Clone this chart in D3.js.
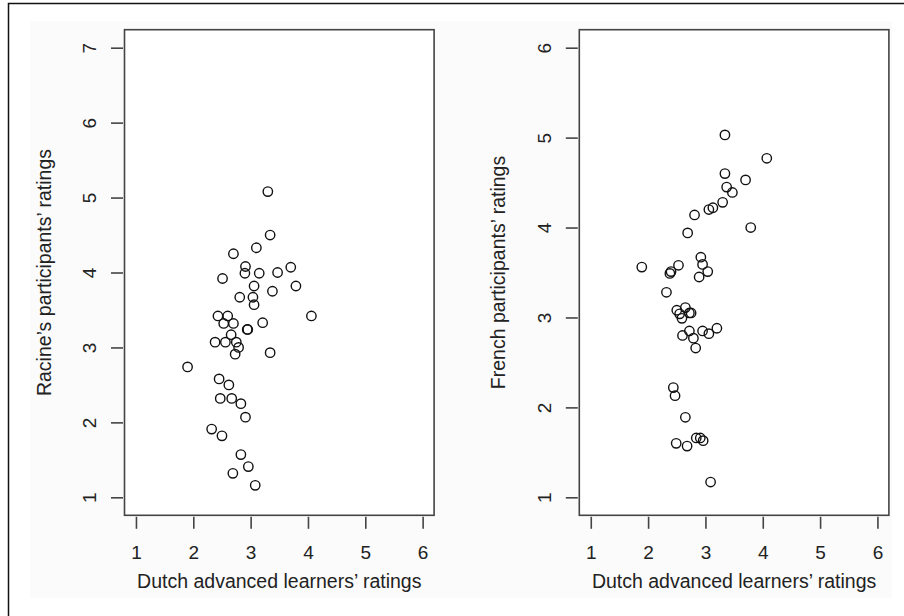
<!DOCTYPE html>
<html>
<head>
<meta charset="utf-8">
<script src="https://cdn.jsdelivr.net/npm/d3@7"></script>
<style>
  body { margin: 0; background: #fff; }
  svg text { font-family: "Liberation Sans", Arial, Helvetica, sans-serif; fill: #222; }
</style>
</head>
<body>
<svg id="chart" width="904" height="616"></svg>
<script>
// Dutch advanced learners' ratings vs Racine's participants' ratings (left panel)
const dutchLeft = [3.30, 3.34, 3.10, 2.70, 2.91, 3.70, 2.90, 3.15, 3.47, 2.51, 3.79, 3.06,
  3.38, 2.81, 3.04, 3.06, 4.06, 2.43, 2.60, 2.53, 2.70, 3.21, 2.94, 2.95, 2.66, 2.38,
  2.56, 2.75, 2.79, 3.34, 2.73, 1.90, 2.45, 2.62, 2.47, 2.67, 2.83, 2.91, 2.32, 2.50,
  2.83, 2.96, 2.69, 3.08];
const racine = [5.08, 4.50, 4.33, 4.25, 4.08, 4.07, 3.99, 3.99, 4.00, 3.92, 3.82, 3.82,
  3.75, 3.67, 3.67, 3.57, 3.42, 3.42, 3.42, 3.32, 3.32, 3.33, 3.24, 3.24, 3.17, 3.07,
  3.07, 3.07, 3.00, 2.93, 2.91, 2.74, 2.58, 2.50, 2.32, 2.32, 2.25, 2.07, 1.91, 1.82,
  1.57, 1.41, 1.32, 1.16];

// Dutch advanced learners' ratings vs French participants' ratings (right panel)
const dutchRight = [3.34, 4.07, 3.34, 3.70, 3.37, 3.47, 3.30, 3.13, 3.06, 2.81, 3.79, 2.69,
  2.92, 2.95, 1.89, 2.53, 2.40, 2.38, 3.04, 2.89, 2.32, 2.50, 2.65, 2.55, 2.72, 2.75,
  2.59, 2.72, 2.60, 2.95, 3.06, 3.20, 2.79, 2.83, 2.44, 2.47, 2.65, 2.84, 2.91, 2.96,
  2.49, 2.68, 3.09];
const french = [5.03, 4.77, 4.60, 4.53, 4.45, 4.39, 4.28, 4.22, 4.20, 4.14, 4.00, 3.94,
  3.67, 3.59, 3.56, 3.58, 3.51, 3.49, 3.51, 3.45, 3.28, 3.08, 3.11, 3.04, 3.05, 3.05,
  2.99, 2.85, 2.80, 2.85, 2.82, 2.88, 2.77, 2.66, 2.22, 2.13, 1.89, 1.66, 1.66, 1.63,
  1.60, 1.57, 1.17];

const xTicks = [1, 2, 3, 4, 5, 6];
const yTicksLeft = [1, 2, 3, 4, 5, 6, 7];
const yTicksRight = [1, 2, 3, 4, 5, 6];

const xTitle = "Dutch advanced learners\u2019 ratings";
const yTitleLeft = "Racine\u2019s participants\u2019 ratings";
const yTitleRight = "French participants\u2019 ratings";

const svg = d3.select("#chart");

// faint page background and the outer frame
svg.append("rect").attr("x", 30).attr("y", 21).attr("width", 862).attr("height", 577)
  .attr("fill", "#fbfbfb");
svg.append("rect").attr("x", 8.5).attr("y", 3.5).attr("width", 920).attr("height", 640)
  .attr("fill", "none").attr("stroke", "#111").attr("stroke-width", 1.5);

const plotW = 309.6, plotH = 485.6, plotTop = 29.7;

// R style: limits extended 4% on each side
function pad(lo, hi) {
  const d = (hi - lo) * 0.04;
  return [lo - d, hi + d];
}

function panel(left, xs, ys, yTicks, yMax, yTitle) {
  const x = d3.scaleLinear().domain(pad(1, 6)).range([left, left + plotW]);
  const y = d3.scaleLinear().domain(pad(1, yMax)).range([plotTop + plotH, plotTop]);

  const g = svg.append("g");

  g.append("rect")
    .attr("x", left).attr("y", plotTop)
    .attr("width", plotW).attr("height", plotH)
    .attr("fill", "#fff")
    .attr("stroke", "#444").attr("stroke-width", 1.6);

  // x axis
  const xa = g.append("g")
    .attr("transform", `translate(0,${plotTop + plotH + 1.5})`)
    .call(d3.axisBottom(x).tickValues(xTicks).tickSize(12).tickPadding(17).tickFormat(d3.format("d")));
  xa.select(".domain").remove();
  xa.selectAll("line").attr("stroke", "#444").attr("stroke-width", 1.6);
  xa.selectAll("text").attr("font-size", 19).attr("fill", "#222");

  // y axis, labels turned parallel to the axis
  const ya = g.append("g")
    .attr("transform", `translate(${left - 1.5},0)`)
    .call(d3.axisLeft(y).tickValues(yTicks).tickSize(12).tickFormat(d3.format("d")));
  ya.select(".domain").remove();
  ya.selectAll("line").attr("stroke", "#444").attr("stroke-width", 1.6);
  ya.selectAll("text")
    .attr("font-size", 19).attr("fill", "#222")
    .attr("text-anchor", "middle")
    .attr("x", 0).attr("y", -27).attr("dy", null)
    .attr("transform", "rotate(-90)");

  // titles
  g.append("text")
    .attr("x", left + plotW / 2).attr("y", 588)
    .attr("text-anchor", "middle").attr("font-size", 19.5)
    .text(xTitle);
  g.append("text")
    .attr("transform", `translate(${left - 74},${plotTop + plotH / 2}) rotate(-90)`)
    .attr("text-anchor", "middle").attr("font-size", 19.5)
    .text(yTitle);

  // points
  g.selectAll("circle")
    .data(xs.map((d, i) => [d, ys[i]]))
    .join("circle")
    .attr("cx", d => x(d[0]))
    .attr("cy", d => y(d[1]))
    .attr("r", 4.7)
    .attr("fill", "none")
    .attr("stroke", "#111")
    .attr("stroke-width", 1.4);
}

panel(124.5, dutchLeft, racine, yTicksLeft, 7, yTitleLeft);
panel(579.3, dutchRight, french, yTicksRight, 6, yTitleRight);
</script>
</body>
</html>
